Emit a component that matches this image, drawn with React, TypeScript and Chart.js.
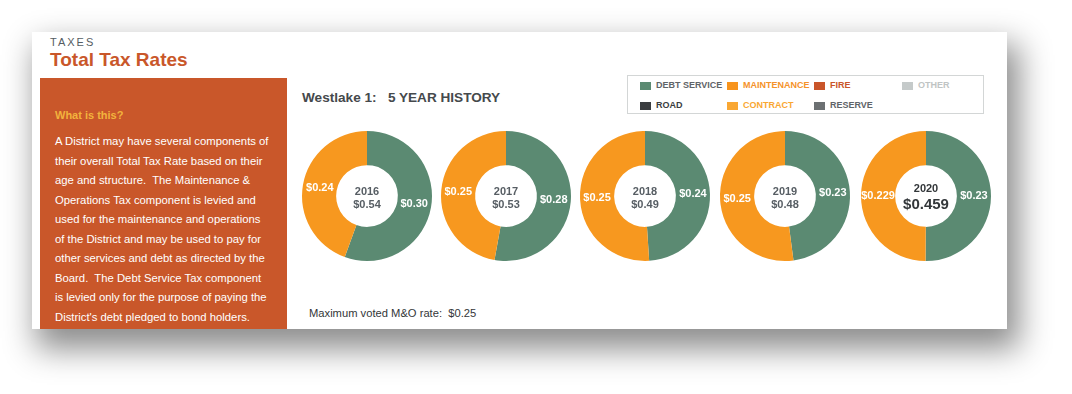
import React, { useEffect, useRef } from "react";
import { Chart, registerables } from "chart.js";

Chart.register(...registerables);

const years = ["2016", "2017", "2018", "2019", "2020"];
const debtService = [0.3, 0.28, 0.24, 0.23, 0.23];
const maintenance = [0.24, 0.25, 0.25, 0.25, 0.229];
const seriesNames = ["DEBT SERVICE", "MAINTENANCE"];
const seriesColors = ["#5B8A72", "#F7981F"];

const legendItems = [
  { name: "DEBT SERVICE", swatch: "#5B8A72", text: "#5f6468" },
  { name: "MAINTENANCE", swatch: "#F7941D", text: "#F5922A" },
  { name: "FIRE", swatch: "#C9552A", text: "#C9552A" },
  { name: "OTHER", swatch: "#C5CACA", text: "#BFC4C4" },
  { name: "ROAD", swatch: "#3a3d40", text: "#3a3d40" },
  { name: "CONTRACT", swatch: "#F9A733", text: "#F9A733" },
  { name: "RESERVE", swatch: "#6c7072", text: "#5f6468" },
];

const sideText = [
  "A District may have several components of",
  "their overall Total Tax Rate based on their",
  "age and structure.  The Maintenance &",
  "Operations Tax component is levied and",
  "used for the maintenance and operations",
  "of the District and may be used to pay for",
  "other services and debt as directed by the",
  "Board.  The Debt Service Tax component",
  "is levied only for the purpose of paying the",
  "District's debt pledged to bond holders.",
];

const centersX = [367, 506, 645, 785, 926];
const CY = 196;
const FONT = '"Liberation Sans", Arial, sans-serif';

function fmt(v: number): string {
  const r = Math.round(v * 1000) / 1000;
  const s = String(r);
  const dec = s.includes(".") ? s.split(".")[1].length : 0;
  return "$" + r.toFixed(Math.max(2, dec));
}

function Donut({ idx }: { idx: number }) {
  const ref = useRef<HTMLCanvasElement | null>(null);
  useEffect(() => {
    if (!ref.current) return;
    const year = years[idx];
    const vals = [debtService[idx], maintenance[idx]];
    const total = vals[0] + vals[1];
    const highlight = idx === years.length - 1;
    const labelPlugin = {
      id: "labels" + idx,
      afterDatasetsDraw(chart: any) {
        const ctx = chart.ctx;
        const meta = chart.getDatasetMeta(0);
        ctx.save();
        ctx.textAlign = "center";
        ctx.textBaseline = "middle";
        ctx.fillStyle = "#ffffff";
        ctx.font = "bold 11px " + FONT;
        meta.data.forEach((arc: any, i: number) => {
          const p = arc.tooltipPosition();
          ctx.fillText(fmt(chart.data.datasets[0].data[i]), p.x, p.y);
        });
        const cx = (chart.chartArea.left + chart.chartArea.right) / 2;
        const cy = (chart.chartArea.top + chart.chartArea.bottom) / 2;
        if (highlight) {
          ctx.fillStyle = "#33373a";
          ctx.font = "bold 11px " + FONT;
          ctx.fillText(year, cx, cy - 7);
          ctx.font = "bold 15px " + FONT;
          ctx.fillText(fmt(total), cx, cy + 9);
        } else {
          ctx.fillStyle = "#575e64";
          ctx.font = "bold 11px " + FONT;
          ctx.fillText(year, cx, cy - 4);
          ctx.fillText(fmt(total), cx, cy + 9);
        }
        ctx.restore();
      },
    };
    const chart = new Chart(ref.current, {
      type: "doughnut",
      data: {
        labels: seriesNames,
        datasets: [
          {
            data: vals,
            backgroundColor: seriesColors,
            borderWidth: 0,
          } as any,
        ],
      },
      options: {
        responsive: false,
        maintainAspectRatio: false,
        animation: false,
        radius: 65,
        cutout: "47.5%",
        layout: { padding: 0 },
        plugins: { legend: { display: false }, tooltip: { enabled: false } },
      } as any,
      plugins: [labelPlugin],
    });
    return () => chart.destroy();
  }, [idx]);
  return (
    <canvas
      ref={ref}
      width={160}
      height={160}
      style={{ position: "absolute", left: centersX[idx] - 80, top: CY - 80, width: 160, height: 160 }}
    />
  );
}

export default function App() {
  return (
    <div
      style={{
        position: "absolute",
        left: 0,
        top: 0,
        width: 1072,
        height: 394,
        background: "#ffffff",
        overflow: "hidden",
        fontFamily: FONT,
      }}
    >
      <div
        style={{
          position: "absolute",
          left: 32,
          top: 32,
          width: 975,
          height: 297,
          background: "#ffffff",
          boxShadow: "8px 16px 30px 4px rgba(0,0,0,0.45)",
        }}
      />
      <div style={{ position: "absolute", left: 50, top: 35, fontSize: 11, letterSpacing: 2, color: "#555d63", lineHeight: "14px" }}>
        TAXES
      </div>
      <div style={{ position: "absolute", left: 50, top: 49, fontSize: 19, fontWeight: "bold", color: "#C9572A", lineHeight: "22px" }}>
        Total Tax Rates
      </div>
      <div style={{ position: "absolute", left: 40, top: 78, width: 247, height: 251, background: "#C9572A" }}>
        <div style={{ position: "absolute", left: 15, top: 30, fontSize: 11, fontWeight: "bold", color: "#F2B33D", lineHeight: "14px" }}>
          What is this?
        </div>
        <div style={{ position: "absolute", left: 15, top: 54, fontSize: 11.3, color: "#ffffff", lineHeight: "19.5px", whiteSpace: "pre" }}>
          {sideText.map((l, i) => (
            <div key={i}>{l}</div>
          ))}
        </div>
      </div>
      <div style={{ position: "absolute", left: 302, top: 90, fontSize: 13.6, fontWeight: "bold", color: "#45494c", lineHeight: "16px", whiteSpace: "pre" }}>
        {"Westlake 1:   5 YEAR HISTORY"}
      </div>
      <div style={{ position: "absolute", left: 627, top: 75, width: 357, height: 39, border: "1px solid #d3d6d6", boxSizing: "border-box" }} />
      {legendItems.map((it, i) => {
        const col = i < 4 ? i : i - 4;
        const row = i < 4 ? 0 : 1;
        const xs = [640, 727, 814, 902];
        return (
          <div key={it.name} style={{ position: "absolute", left: xs[col], top: 80 + row * 20, height: 11, display: "flex", alignItems: "center", whiteSpace: "nowrap" }}>
            <div style={{ width: 11, height: 8, background: it.swatch, marginRight: 5 }} />
            <span style={{ fontSize: 9, fontWeight: "bold", color: it.text, lineHeight: "11px" }}>{it.name}</span>
          </div>
        );
      })}
      {years.map((y, i) => (
        <Donut key={y} idx={i} />
      ))}
      <div style={{ position: "absolute", left: 309, top: 306, fontSize: 11.2, color: "#333638", lineHeight: "14px", whiteSpace: "pre" }}>
        {"Maximum voted M&O rate:  $0.25"}
      </div>
    </div>
  );
}
